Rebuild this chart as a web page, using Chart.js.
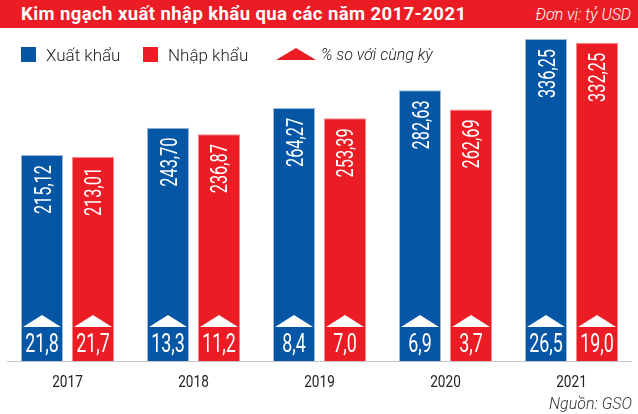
<!DOCTYPE html>
<html>
<head>
<meta charset="utf-8">
<script src="https://cdn.jsdelivr.net/npm/chart.js@4"></script>
<style>
  body { margin: 0; background: #fff; }
  #wrap { position: relative; width: 638px; height: 414px; overflow: hidden; font-family: Roboto, sans-serif; }
  #c { position: absolute; left: 0; top: 0; }
  .bar-top { position: absolute; left: 0; top: 0; width: 638px; height: 28px; background: #ec1c24; }
  .title { position: absolute; left: 21px; top: 4px; color: #fff; font-weight: 700; font-size: 18.5px; letter-spacing: 0.42px; line-height: 20px; white-space: nowrap; }
  .unit { position: absolute; right: 7px; top: 5px; color: #fff; font-style: italic; font-weight: 300; font-size: 16px; line-height: 20px; white-space: nowrap; }
  .lg { position: absolute; top: 45px; font-size: 17px; font-weight: 300; color: #222; line-height: 20px; white-space: nowrap; }
  .sq { position: absolute; top: 47px; width: 15px; height: 15px; }
  .tri { position: absolute; left: 276px; top: 48px; width: 0; height: 0; border-left: 20px solid transparent; border-right: 20px solid transparent; border-bottom: 12px solid #ec1c24; }
  .src { position: absolute; right: 6px; top: 394px; font-style: italic; font-weight: 300; font-size: 16px; color: #333; line-height: 20px; }
</style>
</head>
<body>
<div id="wrap">
  <canvas id="c" width="638" height="414"></canvas>
  <div class="bar-top"></div>
  <div class="title">Kim ngạch xuất nhập khẩu qua các năm 2017-2021</div>
  <div class="unit">Đơn vị: tỷ USD</div>
  <div class="sq" style="left:21px;background:#0557a6"></div>
  <div class="lg" style="left:46px">Xuất khẩu</div>
  <div class="sq" style="left:143px;background:#ec1c24"></div>
  <div class="lg" style="left:168px">Nhập khẩu</div>
  <div class="tri"></div>
  <div class="lg" style="left:321px;font-style:italic;font-size:16px">% so với cùng kỳ</div>
  <div class="src">Nguồn: GSO</div>
</div>
<script>
let years = ["2017", "2018", "2019", "2020", "2021"];
let xuatKhau = [215.12, 243.70, 264.27, 282.63, 336.25];
let nhapKhau = [213.01, 236.87, 253.39, 262.69, 332.25];
let xuatKhauTang = [21.8, 13.3, 8.4, 6.9, 26.5]; // % so với cùng kỳ
let nhapKhauTang = [21.7, 11.2, 7.0, 3.7, 19.0];

function vn(v, d) {
  return v.toFixed(d).replace(".", ",");
}

// labels inside bars, baseline and year labels
let barText = {
  id: "barText",
  afterDatasetsDraw(chart) {
    let ctx = chart.ctx;
    let yScale = chart.scales.y;
    let xScale = chart.scales.x;
    let base = yScale.getPixelForValue(0);

    chart.data.datasets.forEach((ds, i) => {
      chart.getDatasetMeta(i).data.forEach((bar, j) => {
        ctx.save();
        ctx.fillStyle = "#fff";
        // rotated value
        ctx.translate(bar.x, bar.y + 10);
        ctx.rotate(-Math.PI / 2);
        ctx.scale(0.68, 1);
        ctx.font = "400 24px Roboto";
        ctx.textAlign = "right";
        ctx.textBaseline = "alphabetic";
        ctx.fillText(vn(ds.data[j], 2), 0, 8.5);
        ctx.restore();

        // triangle
        ctx.save();
        ctx.fillStyle = "#fff";
        ctx.beginPath();
        ctx.moveTo(bar.x, base - 46);
        ctx.lineTo(bar.x + 19, base - 34);
        ctx.lineTo(bar.x - 19, base - 34);
        ctx.closePath();
        ctx.fill();
        // growth value
        ctx.translate(bar.x, base - 9);
        ctx.scale(0.7, 1);
        ctx.font = "400 25.5px Roboto";
        ctx.textAlign = "center";
        ctx.textBaseline = "alphabetic";
        ctx.fillText(vn(ds.growth[j], 1), 0, 0);
        ctx.restore();
      });
    });

    ctx.save();
    ctx.strokeStyle = "#c4c4c4";
    ctx.lineWidth = 1;
    ctx.beginPath();
    ctx.moveTo(chart.chartArea.left + 2.5, Math.round(base) + 0.5);
    ctx.lineTo(chart.chartArea.right - 2.5, Math.round(base) + 0.5);
    ctx.stroke();

    ctx.fillStyle = "#222";
    ctx.font = "400 17px Roboto";
    ctx.textAlign = "center";
    years.forEach((y, j) => {
      ctx.save();
      ctx.translate(xScale.getPixelForValue(j), base + 26);
      ctx.scale(0.8, 1);
      ctx.fillText(y, 0, 0);
      ctx.restore();
    });
    ctx.restore();
  }
};

let chart = new Chart(document.getElementById("c"), {
  type: "bar",
  data: {
    labels: years,
    datasets: [
      {
        label: "Xuất khẩu",
        data: xuatKhau,
        growth: xuatKhauTang,
        backgroundColor: "#0557a6",
        borderColor: "#9db9dc",
        borderWidth: 1
      },
      {
        label: "Nhập khẩu",
        data: nhapKhau,
        growth: nhapKhauTang,
        backgroundColor: "#ec1c24",
        borderColor: "#f48a8e",
        borderWidth: 1
      }
    ]
  },
  options: {
    responsive: false,
    animation: false,
    layout: { padding: { top: 25.84, bottom: 53, left: 4.5, right: 3.5 } },
    datasets: { bar: { categoryPercentage: 0.8095, barPercentage: 0.8235 } },
    plugins: { legend: { display: false }, tooltip: { enabled: false } },
    scales: {
      x: { display: false },
      y: { display: false, min: 0, max: 350 }
    }
  },
  plugins: [barText]
});
</script>
</body>
</html>
